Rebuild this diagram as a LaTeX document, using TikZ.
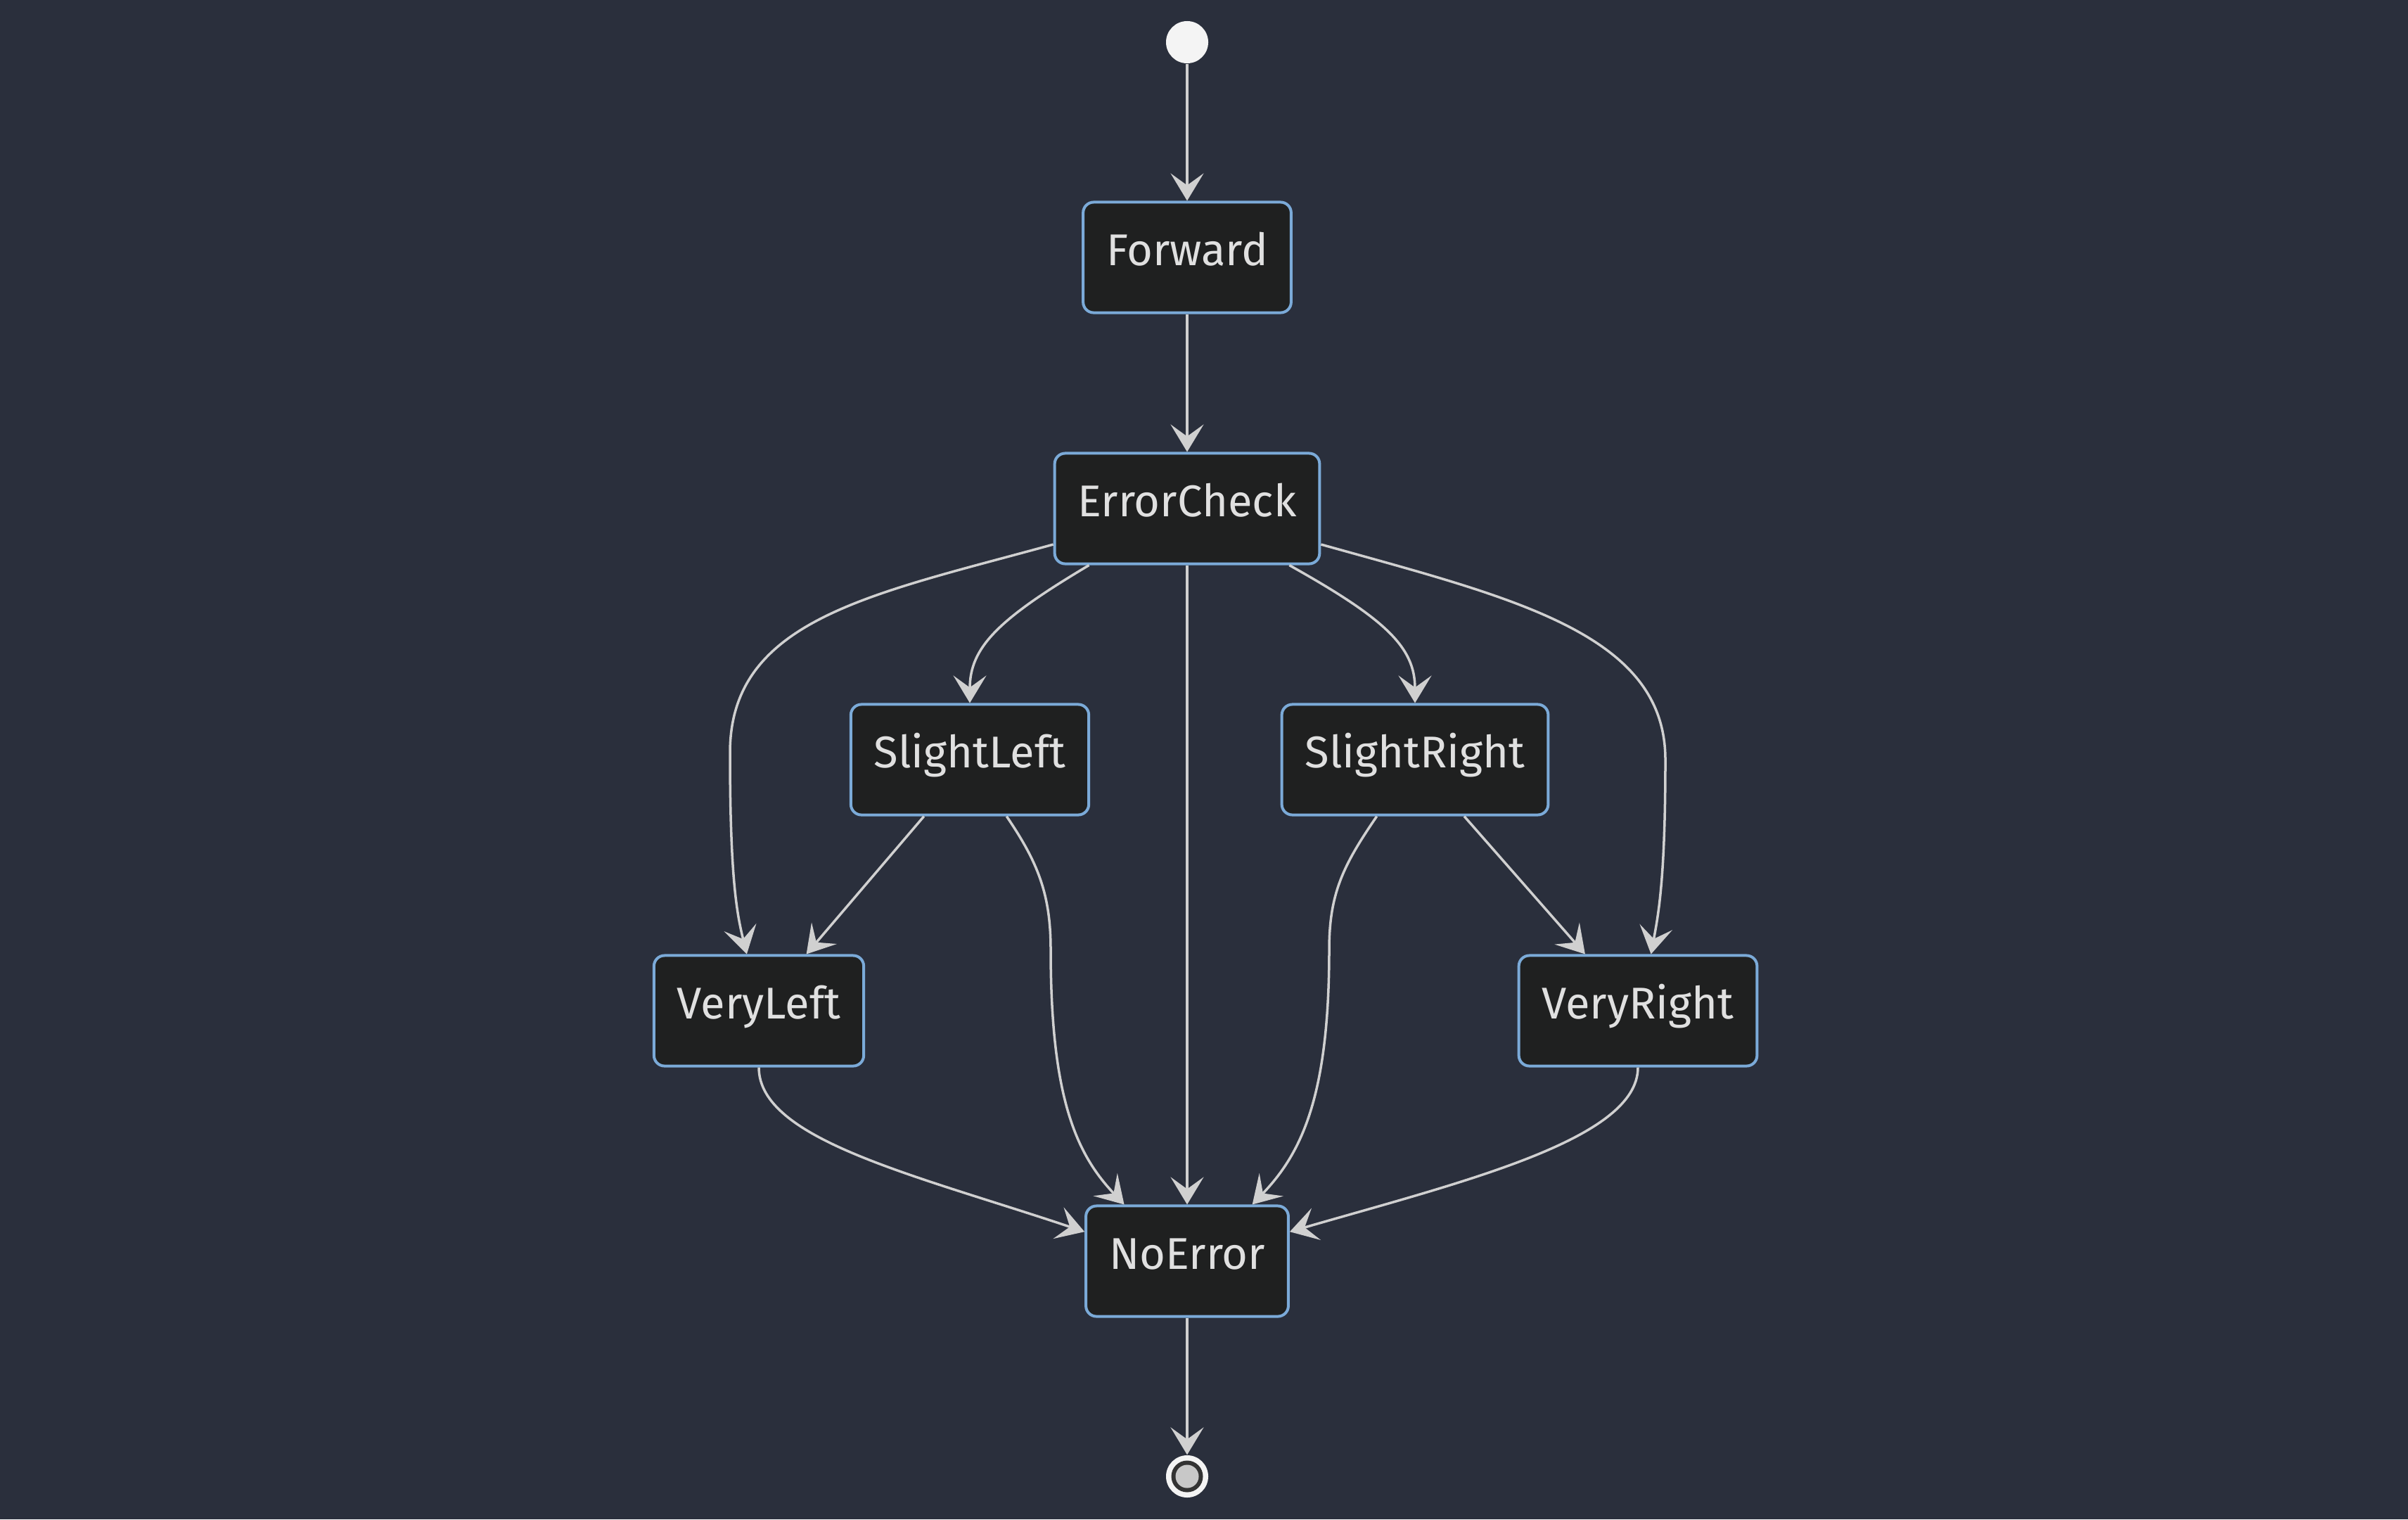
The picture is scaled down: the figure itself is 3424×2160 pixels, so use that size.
\documentclass[tikz,border=0pt]{standalone}
\usepackage{fontspec}
\setmainfont{Fira Sans}
\usetikzlibrary{arrows.meta}
\definecolor{bgdark}{HTML}{2A2F3C}
\definecolor{boxfill}{HTML}{1F2020}
\definecolor{boxline}{HTML}{7BAAD8}
\definecolor{edgegray}{HTML}{D0D0D0}
\definecolor{labeltext}{HTML}{E0E0E0}
\definecolor{dotwhite}{HTML}{F4F4F4}
\definecolor{ringdark}{HTML}{333333}
\definecolor{coregray}{HTML}{C8C8C8}

\begin{document}
\begin{tikzpicture}[x=0.01cm,y=-0.01cm,
  >={Stealth[length=0.39cm,width=0.47cm,inset=0.17cm]},
  link/.style={->,draw=edgegray,line width=0.035cm},
  block/.style={draw=boxline,fill=boxfill,line width=0.04cm,rounded corners=0.15cm,
    minimum height=1.57cm,inner xsep=0.33cm,text height=0.5cm,text depth=0.27cm,
    text=labeltext,font=\fontsize{18pt}{22pt}\selectfont},
  startdot/.style={circle,fill=dotwhite,minimum size=0.6cm,inner sep=0pt},
  enddot/.style={circle,fill=dotwhite,minimum size=0.6cm,inner sep=0pt,
    path picture={\fill[ringdark] (path picture bounding box.center) circle (0.225cm);
      \fill[coregray] (path picture bounding box.center) circle (0.165cm);}}]
  \path[use as bounding box,fill=bgdark] (0,0) rectangle (3424,2160);

  \node[startdot] (start)       at (1688,60)   {};
  \node[block]    (Forward)     at (1688,366)  {Forward};
  \node[block]    (ErrorCheck)  at (1688,723)  {ErrorCheck};
  \node[block]    (SlightLeft)  at (1379,1080) {SlightLeft};
  \node[block]    (SlightRight) at (2012,1080) {SlightRight};
  \node[block]    (VeryLeft)    at (1079,1437) {VeryLeft};
  \node[block]    (VeryRight)   at (2329,1437) {VeryRight};
  \node[block]    (NoError)     at (1688,1793) {NoError};
  \node[enddot]   (end)         at (1688,2099) {};

  \path (start) edge[link] (Forward)
        (Forward) edge[link] (ErrorCheck)
        (ErrorCheck) edge[link] (NoError)
        (SlightLeft.231) edge[link] (VeryLeft.50)
        (SlightRight.311) edge[link] (VeryRight.133)
        (NoError) edge[link] (end);

  \draw[link] (ErrorCheck.195) .. controls (1240,845) and (1038,880) .. (1038,1070)
    .. controls (1038,1250) and (1048,1300) .. (VeryLeft.102);
  \draw[link] (ErrorCheck.210) .. controls (1420,880) and (1379,920) .. (SlightLeft.north);
  \draw[link] (ErrorCheck.331) .. controls (1970,880) and (2012,920) .. (SlightRight.north);
  \draw[link] (ErrorCheck.345) .. controls (2150,850) and (2368,900) .. (2368,1080)
    .. controls (2368,1250) and (2358,1300) .. (VeryRight.77);
  \draw[link] (SlightLeft.303) .. controls (1475,1225) and (1494,1270) .. (1494,1350)
    .. controls (1494,1560) and (1530,1640) .. (NoError.138);
  \draw[link] (SlightRight.236) .. controls (1910,1230) and (1890,1270) .. (1890,1350)
    .. controls (1890,1560) and (1850,1640) .. (NoError.41);
  \draw[link] (VeryLeft.south) .. controls (1079,1620) and (1300,1670) .. (NoError.164);
  \draw[link] (VeryRight.south) .. controls (2329,1620) and (2080,1680) .. (NoError.16);
\end{tikzpicture}
\end{document}
